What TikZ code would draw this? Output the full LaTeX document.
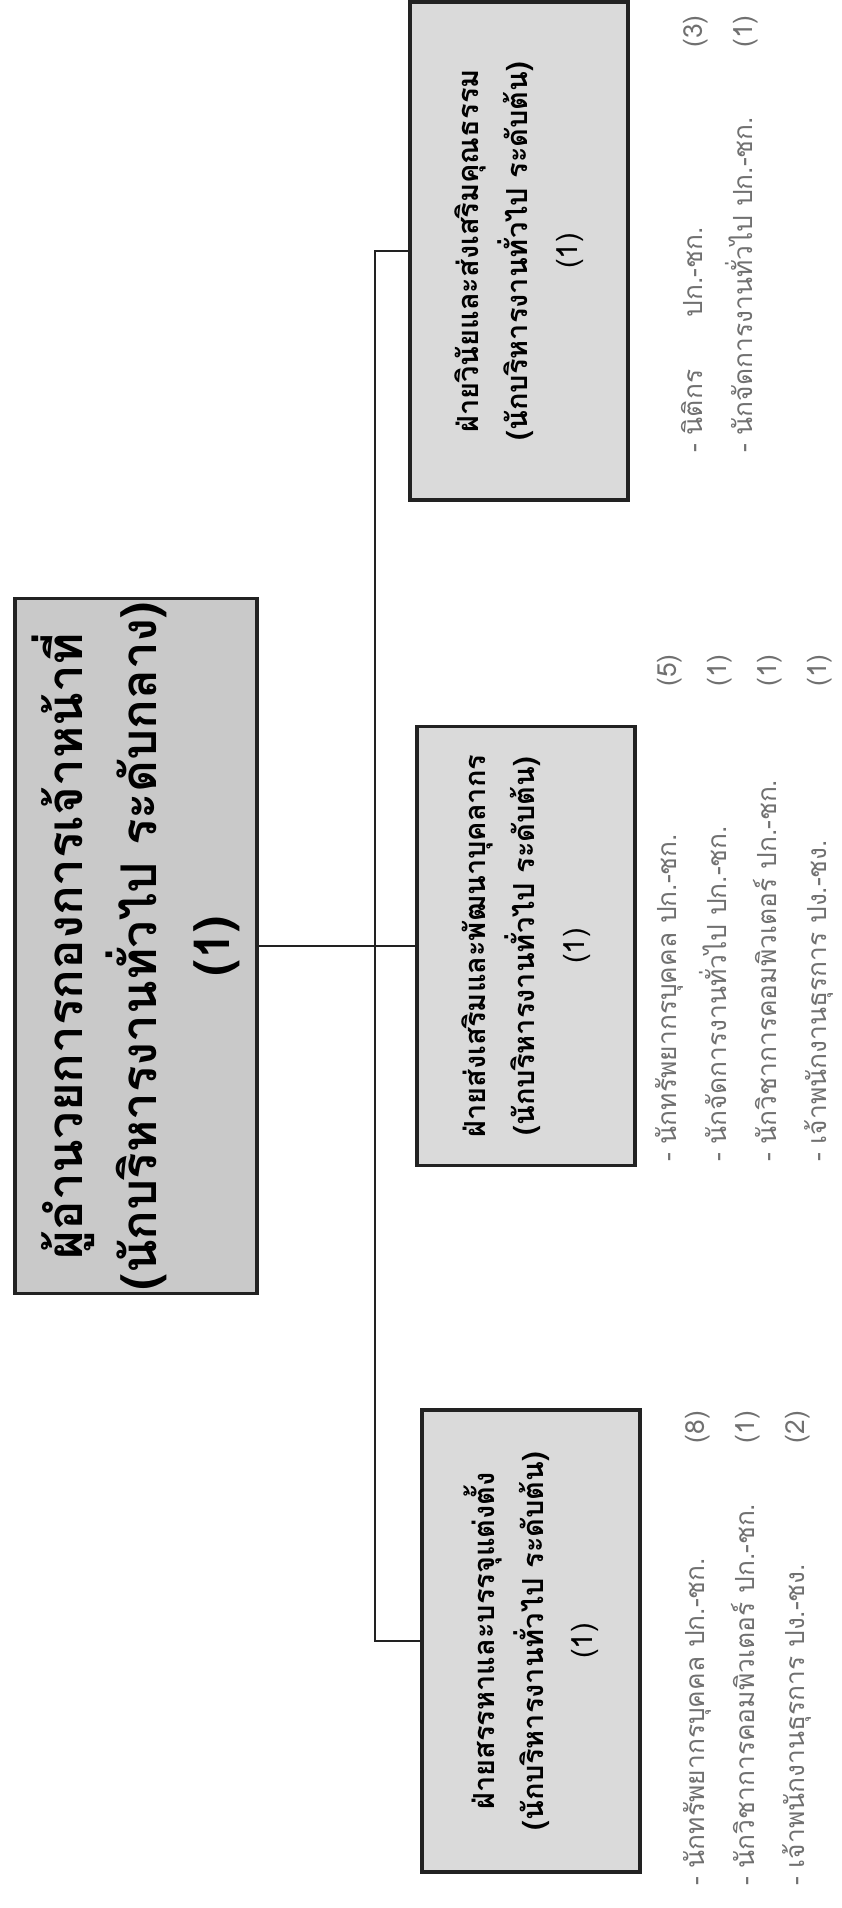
\documentclass[tikz,border=0pt]{standalone}
\usepackage{fontspec}
\usepackage{xcolor}
\usepackage{tikz}
\usetikzlibrary{positioning,calc}
\newfontfamily\thaifont[Script=Thai]{Loma}
\definecolor{ink}{HTML}{222222}
\definecolor{headfill}{HTML}{C9C9C9}
\definecolor{unitfill}{HTML}{DADADA}
\definecolor{faint}{HTML}{707070}
\tikzset{
  head/.style={draw=ink, fill=headfill, line width=2pt, rotate=90, align=center, inner sep=2pt,
               font=\thaifont\bfseries\fontsize{28}{42}\selectfont, minimum width=13.9cm, minimum height=4.84cm},
  unit/.style={draw=ink, fill=unitfill, line width=2pt, rotate=90, align=center, inner sep=2pt,
               font=\thaifont\fontsize{16.5}{28}\selectfont, minimum height=4.36cm},
  staff/.style={rotate=90, anchor=north west, inner sep=0pt, text=faint,
                font=\thaifont\fontsize{15}{28.5}\selectfont},
  link/.style={draw=ink, line width=1.4pt},
}
\newcommand{\stafflist}[2]{\begin{tabular}{@{}p{#1}@{}l@{}}#2\end{tabular}}

\begin{document}
\begin{tikzpicture}[x=0.02cm, y=-0.02cm]
  \useasboundingbox (0,0) rectangle (842,1908);
  % rotated chart: node north = left side, node south = right side
  \node[head] (dir) at (136,946) {ผู้อำนวยการกองการเจ้าหน้าที่\\(นักบริหารงานทั่วไป ระดับกลาง)\\(1)};
  \node[unit, minimum width=9.96cm] (disc) at (519,251)
        {\textbf{ฝ่ายวินัยและส่งเสริมคุณธรรม}\\\textbf{(นักบริหารงานทั่วไป ระดับต้น)}\\(1)};
  \node[unit, minimum width=8.78cm] (dev) at (526,946)
        {\textbf{ฝ่ายส่งเสริมและพัฒนาบุคลากร}\\\textbf{(นักบริหารงานทั่วไป ระดับต้น)}\\(1)};
  \node[unit, minimum width=9.24cm] (recr) at (531,1641)
        {\textbf{ฝ่ายสรรหาและบรรจุแต่งตั้ง}\\\textbf{(นักบริหารงานทั่วไป ระดับต้น)}\\(1)};
  \node[staff] (discL) at (667,453) {\stafflist{8.1cm}{%
        - นิติกร\quad\quad ปก.-ชก. & (3)\\
        - นักจัดการงานทั่วไป ปก.-ชก. & (1)}};
  \node[staff] (devL) at (641,1162) {\stafflist{9.5cm}{%
        - นักทรัพยากรบุคคล ปก.-ชก. & (5)\\
        - นักจัดการงานทั่วไป ปก.-ชก. & (1)\\
        - นักวิชาการคอมพิวเตอร์ ปก.-ชก. & (1)\\
        - เจ้าพนักงานธุรการ ปง.-ชง. & (1)}};
  \node[staff] (recrL) at (669,1886) {\stafflist{8.85cm}{%
        - นักทรัพยากรบุคคล ปก.-ชก. & (8)\\
        - นักวิชาการคอมพิวเตอร์ ปก.-ชก. & (1)\\
        - เจ้าพนักงานธุรการ ปง.-ชง. & (2)}};
  \coordinate (jn) at (375,946);
  \draw[link] (dir.south) -- (dev.north);
  \draw[link] (disc.north) -| (jn) |- (recr.north);
\end{tikzpicture}
\end{document}
